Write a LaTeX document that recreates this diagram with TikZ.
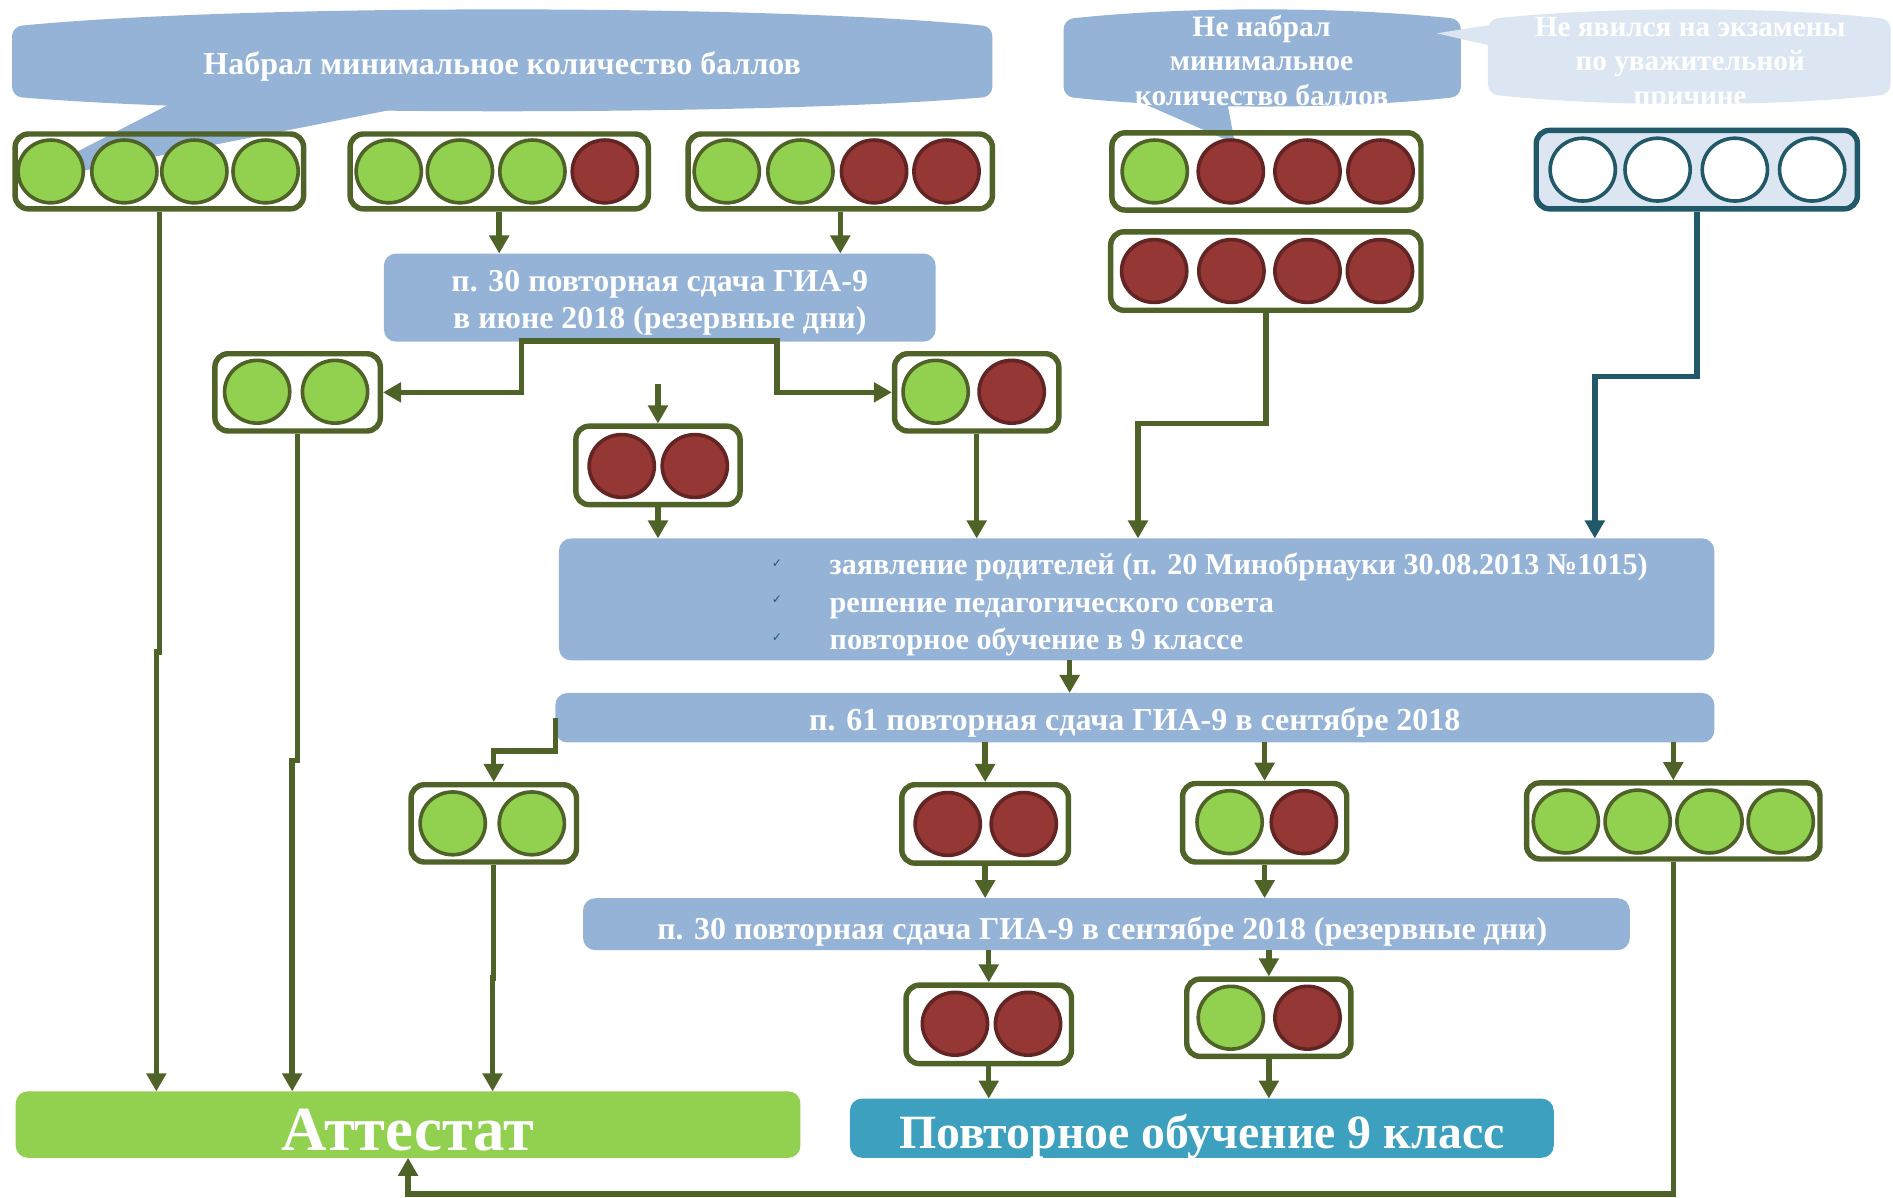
\documentclass[tikz,border=0pt]{standalone}
\usepackage{fontspec}
\setmainfont{Liberation Serif}
\newfontfamily\djv{DejaVu Sans}
\usetikzlibrary{arrows.meta}
\definecolor{olv}{HTML}{4F6228}
\definecolor{drd}{HTML}{632523}
\definecolor{rfill}{HTML}{953735}
\definecolor{gfill}{HTML}{92D050}
\definecolor{bfill}{HTML}{95B3D7}
\definecolor{lbfill}{HTML}{DCE6F2}
\definecolor{tealc}{HTML}{215968}
\definecolor{cyanbox}{RGB}{60,160,190}
\newcommand\fsz[1]{\fontsize{#1}{#1}\selectfont\bfseries}
\begin{document}
\begin{tikzpicture}[x=1pt,y=-1pt,
  conn/.style={draw=olv,line width=4.5pt},
  arr/.style={conn,-{Triangle[width=16pt,length=15pt]}},
  tarr/.style={draw=tealc,line width=4.5pt,-{Triangle[width=16pt,length=15pt]}},
  lbox/.style={draw=olv,line width=4.5pt,rounded corners=11pt,inner sep=0pt},
  tbox/.style={draw=tealc,fill=lbfill,line width=4.5pt,rounded corners=11pt,inner sep=0pt},
  bbox/.style={fill=bfill,rounded corners=10pt,inner sep=0pt,outer sep=0pt},
  cg/.style={draw=olv,fill=gfill,line width=3pt},
  cr/.style={draw=drd,fill=rfill,line width=3pt},
  cw/.style={draw=tealc,fill=white,line width=3pt},
  txt/.style={anchor=base,text=white,inner sep=0pt},
  chk/.style={text=tealc,inner sep=0pt,font=\djv\fontsize{10}{10}\selectfont}]
\useasboundingbox (0,0) rectangle (1568,992);
% speech bubbles
\fill[bfill] (145,84) -- (10.6,153) -- (349,86) -- cycle;
\fill[bfill,rounded corners=8pt] (10,22) .. controls (200,3.3) and (632,3.3) .. (822,22) -- (822,80) .. controls (632,96) and (200,96) .. (10,80) -- cycle;
\fill[bfill] (938.5,82) -- (1023,119) -- (1016,82) -- cycle;
\fill[bfill,rounded corners=8pt] (881,16) .. controls (980,5.3) and (1111,5.3) .. (1210,16) -- (1210,80) .. controls (1111,90.7) and (980,90.7) .. (881,80) -- cycle;
\fill[lbfill] (1245,19) -- (1190,27.6) -- (1250,41.4) -- cycle;
\fill[lbfill,rounded corners=8pt] (1232.5,16) .. controls (1330,5.3) and (1468,5.3) .. (1566,16) -- (1566,78) .. controls (1468,88.7) and (1330,88.7) .. (1232.5,78) -- cycle;
\node[txt,font=\fsz{26.5}] (t1) at (416,62) {Набрал минимальное количество баллов};
\node[txt,font=\fsz{24.5}] (t2a) at (1045,30.4) {Не набрал};
\node[txt,font=\fsz{24.5}] (t2b) at (1045,58) {минимальное};
\node[txt,font=\fsz{24.5}] (t2c) at (1045,87.8) {количество баллов};
\node[txt,font=\fsz{24.2}] (t3a) at (1400,30.4) {Не явился на экзамены};
\node[txt,font=\fsz{24.2}] (t3b) at (1400,58) {по уважительной};
\node[txt,font=\fsz{24.2}] (t3c) at (1400,87.8) {причине};
% blue boxes
\node[bbox,minimum width=457pt,minimum height=73pt] (B1) at (546.5,246.5) {};
\node[bbox,minimum width=957pt,minimum height=101pt] (B2) at (941.5,496.5) {};
\node[bbox,minimum width=960pt,minimum height=41pt] (B3) at (940,594.5) {};
\node[bbox,minimum width=867pt,minimum height=43pt] (B4) at (916.5,765.5) {};
\node[bbox,fill=gfill,minimum width=650pt,minimum height=55pt] (A) at (338,931.5) {};
\node[bbox,fill=cyanbox,minimum width=583pt,minimum height=49pt] (P) at (995.5,934.5) {};
% light boxes
\node[lbox,minimum width=239pt,minimum height=62pt] (L1) at (132,142) {};
\node[lbox,minimum width=247pt,minimum height=62pt] (L2) at (413.5,142) {};
\node[lbox,minimum width=252pt,minimum height=62pt] (L3) at (696,142) {};
\node[lbox,minimum width=256pt,minimum height=64pt] (L4) at (1049,142) {};
\node[lbox,minimum width=257pt,minimum height=65pt] (L5) at (1048.5,224.5) {};
\node[tbox,minimum width=266pt,minimum height=65pt] (L6) at (1405.5,140.5) {};
\node[lbox,minimum width=137pt,minimum height=64pt] (L7) at (246.5,325) {};
\node[lbox,minimum width=136pt,minimum height=65pt] (L8) at (545,385.5) {};
\node[lbox,minimum width=136pt,minimum height=64pt] (L9) at (809,325) {};
\node[lbox,minimum width=137pt,minimum height=64pt] (L10) at (409,682) {};
\node[lbox,minimum width=138pt,minimum height=65pt] (L11) at (816,682.5) {};
\node[lbox,minimum width=136pt,minimum height=65pt] (L12) at (1047.5,681.5) {};
\node[lbox,minimum width=243pt,minimum height=63pt] (L13) at (1386,680) {};
\node[lbox,minimum width=137pt,minimum height=65pt] (L14) at (819,848.5) {};
\node[lbox,minimum width=136pt,minimum height=64pt] (L15) at (1051,843) {};
% lights
\foreach \x/\c in {42/cg,103/cg,161/cg,220/cg} \path[\c] (\x,142) ellipse [x radius=27,y radius=26];
\foreach \x/\c in {322/cg,381/cg,441/cg,501/cr} \path[\c] (\x,142) ellipse [x radius=27,y radius=26];
\foreach \x/\c in {602/cg,663/cg,724/cr,784/cr} \path[\c] (\x,142) ellipse [x radius=27,y radius=26];
\foreach \x/\c in {956.5/cg,1019.5/cr,1083/cr,1143.5/cr} \path[\c] (\x,142) ellipse [x radius=27,y radius=26];
\foreach \x/\c in {956/cr,1020/cr,1083/cr,1143/cr} \path[\c] (\x,224.5) ellipse [x radius=27,y radius=26];
\foreach \x/\c in {1311/cw,1373/cw,1437/cw,1501/cw} \path[\c] (\x,140.5) ellipse [x radius=27,y radius=26];
\foreach \x/\c in {213/cg,277.5/cg} \path[\c] (\x,324.5) ellipse [x radius=27,y radius=26];
\foreach \x/\c in {515/cr,575.5/cr} \path[\c] (\x,386) ellipse [x radius=27,y radius=26];
\foreach \x/\c in {775/cg,838/cr} \path[\c] (\x,324.5) ellipse [x radius=27,y radius=26];
\foreach \x/\c in {375/cg,440.5/cg} \path[\c] (\x,682) ellipse [x radius=27,y radius=26];
\foreach \x/\c in {785/cr,848/cr} \path[\c] (\x,682.5) ellipse [x radius=27,y radius=26];
\foreach \x/\c in {1018.5/cg,1080/cr} \path[\c] (\x,681) ellipse [x radius=27,y radius=26];
\foreach \x/\c in {1297/cg,1356.5/cg,1416/cg,1475/cg} \path[\c] (\x,680.5) ellipse [x radius=27,y radius=26];
\foreach \x/\c in {791/cr,851.5/cr} \path[\c] (\x,848) ellipse [x radius=27,y radius=26];
\foreach \x/\c in {1019.5/cg,1083/cr} \path[\c] (\x,843) ellipse [x radius=27,y radius=26];
% box texts
\node[txt,font=\fsz{26.4}] (B1a) at (546.5,241.6) {п. 30 повторная сдача ГИА-9};
\node[txt,font=\fsz{26.4}] (B1b) at (546.5,271.8) {в июне 2018 (резервные дни)};
\node[txt,anchor=base west,font=\fsz{25}] (B2a) at (687,476) {заявление родителей (п. 20 Минобрнауки 30.08.2013 №1015)};
\node[txt,anchor=base west,font=\fsz{25}] (B2b) at (687,507) {решение педагогического совета};
\node[txt,anchor=base west,font=\fsz{25}] (B2c) at (687,538) {повторное обучение в 9 классе};
\node[chk] (k1a) at (643.6,466.6) {✓};
\node[chk] (k1b) at (643.6,497) {✓};
\node[chk] (k1c) at (643.6,528.5) {✓};
\node[txt,font=\fsz{26.5}] (B3a) at (940,605) {п. 61 повторная сдача ГИА-9 в сентябре 2018};
\node[txt,font=\fsz{26.4}] (B4a) at (913,778) {п. 30 повторная сдача ГИА-9 в сентябре 2018 (резервные дни)};
\node[txt,font=\fsz{52}] (Aa) at (338,952.6) {Аттестат};
\node[txt,font=\fsz{39.6}] (Pa) at (995.5,951) {Повторное обучение 9 класс};
% connectors
\coordinate (j1) at (129.5,540);
\coordinate (j2) at (242,630);
\coordinate (j3) at (408,810);
\coordinate (bl) at (432,282.5);
\coordinate (br) at (643.6,282.5);
\coordinate (d1) at (545,318);
\coordinate (k1) at (942.6,351);
\coordinate (tt) at (1321,312);
\coordinate (x886) at (886,0);
\coordinate (m1) at (409,622);
\coordinate (q1) at (0,989);
\draw[arr] (L1.south) |- (j1) -- (j1 |- A.north);
\draw[arr] (L2.south) -- (L2.south |- B1.north);
\draw[arr] (L3.south) -- (L3.south |- B1.north);
\draw[arr] (br) -- (bl) |- (L7.east);
\draw[arr] (bl) -- (br) |- (L9.west);
\draw[arr] (d1) -- (L8.north);
\draw[arr] (L8.south) -- (L8.south |- B2.north);
\draw[arr] (L9.south) -- (L9.south |- B2.north);
\draw[arr] (L5.south) |- (k1) -- (k1 |- B2.north);
\draw[tarr] (L6.south) |- (tt) -- (tt |- B2.north);
\draw[arr] (B2.south -| x886) -- (B3.north -| x886);
\draw[arr] (B3.west) |- (m1) -- (m1 |- L10.north);
\draw[arr] (B3.south -| L11.north) -- (L11.north);
\draw[arr] (B3.south -| L12.north) -- (L12.north);
\draw[arr] (B3.south -| L13.north) -- (L13.north);
\draw[arr] (L7.south) |- (j2) -- (j2 |- A.north);
\draw[arr] (L10.south) |- (j3) -- (j3 |- A.north);
\draw[arr] (L11.south) -- (L11.south |- B4.north);
\draw[arr] (L12.south) -- (L12.south |- B4.north);
\draw[arr] (B4.south -| L14.north) -- (L14.north);
\draw[arr] (B4.south -| L15.north) -- (L15.north);
\draw[arr] (L14.south) -- (L14.south |- P.north);
\draw[arr] (L15.south) -- (L15.south |- P.north);
\draw[arr] (L13.south) -- (L13.south |- q1) -| (A.south);
\end{tikzpicture}
\end{document}
